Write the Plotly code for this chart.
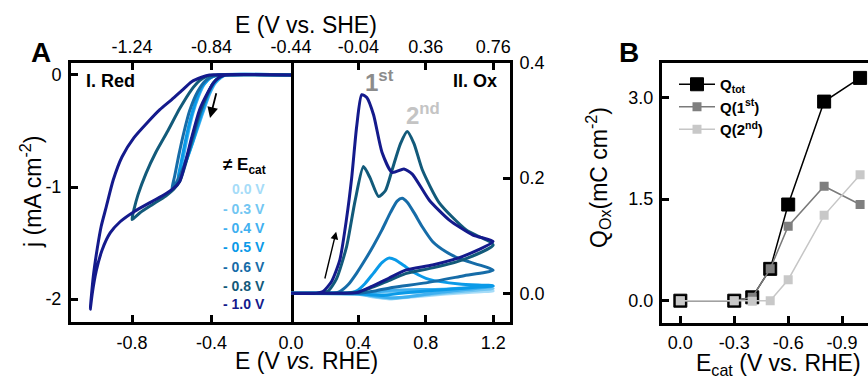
import plotly.graph_objects as go

W, H = 868, 377
def px(x): return x / W
def py(y): return 1 - y / H

FONT = "Liberation Sans, Arial, sans-serif"

# ---------------- data ----------------
ecat_labels = ["0.0 V", "- 0.3 V", "- 0.4 V", "- 0.5 V", "- 0.6 V", "- 0.8 V", "- 1.0 V"]
ecat_colors = ["#a6dcf8", "#72c6f2", "#3fb0f0", "#0a9ae8", "#166ca8", "#125a7a", "#141a8c"]

# Panel A-I (reduction): E (V vs. RHE), j (mA cm-2)
red_E_03 = [0.0, -0.30, 0.0]
red_j_03 = [0.0, 0.0, 0.0]
red_E_04 = [0.0, -0.33, -0.35, -0.38, -0.41, -0.45, -0.49, -0.53, -0.555,
            -0.54, -0.52, -0.495, -0.465, -0.435, -0.40, -0.36, 0.0]
red_j_04 = [0.0, 0.0, -0.02, -0.07, -0.17, -0.37, -0.58, -0.78, -0.87,
            -0.72, -0.54, -0.35, -0.19, -0.08, -0.02, 0.0, 0.0]
red_E_05 = [0.0, -0.33, -0.355, -0.385, -0.415, -0.455, -0.495, -0.535, -0.57,
            -0.555, -0.535, -0.51, -0.48, -0.45, -0.41, -0.37, 0.0]
red_j_05 = [0.0, 0.0, -0.02, -0.07, -0.17, -0.37, -0.60, -0.80, -0.93,
            -0.80, -0.62, -0.42, -0.24, -0.11, -0.03, 0.0, 0.0]
red_E_06 = [0.0, -0.33, -0.36, -0.39, -0.42, -0.46, -0.50, -0.54, -0.58, -0.60,
            -0.585, -0.565, -0.54, -0.51, -0.47, -0.43, -0.39, -0.35, 0.0]
red_j_06 = [0.0, 0.0, -0.02, -0.07, -0.17, -0.36, -0.60, -0.82, -0.97, -1.02,
            -0.90, -0.72, -0.52, -0.32, -0.15, -0.05, -0.01, 0.0, 0.0]
red_E_08 = [0.0, -0.33, -0.36, -0.39, -0.42, -0.46, -0.50, -0.53, -0.56, -0.59, -0.63, -0.70, -0.76, -0.80,
            -0.79, -0.77, -0.73, -0.68, -0.62, -0.56, -0.50, -0.46, -0.42, -0.39, 0.0]
red_j_08 = [0.0, 0.0, -0.02, -0.07, -0.17, -0.34, -0.58, -0.79, -0.95, -1.02, -1.08, -1.16, -1.23, -1.29,
            -1.20, -1.07, -0.88, -0.69, -0.50, -0.30, -0.13, -0.05, -0.01, 0.0, 0.0]
red_E_10 = [0.0, -0.33, -0.36, -0.39, -0.42, -0.46, -0.50, -0.53, -0.56, -0.59, -0.63, -0.70, -0.79, -0.86,
            -0.91, -0.95, -0.98, -1.00, -1.01,
            -0.995, -0.975, -0.955, -0.93, -0.895, -0.85, -0.79, -0.72, -0.66, -0.60, -0.55, -0.50, -0.45,
            -0.41, 0.0]
red_j_10 = [0.0, 0.0, -0.02, -0.07, -0.16, -0.31, -0.56, -0.77, -0.95, -1.01, -1.06, -1.13, -1.22, -1.31,
            -1.41, -1.56, -1.75, -1.95, -2.09,
            -1.80, -1.55, -1.35, -1.18, -0.94, -0.73, -0.56, -0.42, -0.31, -0.22, -0.14, -0.06, -0.02,
            0.0, 0.0]

# Panel A-II (oxidation): E (V vs. RHE), j (mA cm-2)
ox_E_00 = [0.0, 0.4, 0.7, 1.0, 1.2, 0.9, 0.7, 0.6, 0.5, 0.4, 0.0]
ox_j_00 = [0.0, 0.0, 0.001, 0.003, 0.004, -0.002, -0.007, -0.010, -0.007, -0.002, 0.0]
ox_E_03 = [0.0, 0.4, 0.6, 0.8, 1.0, 1.2, 0.9, 0.7, 0.6, 0.5, 0.4, 0.0]
ox_j_03 = [0.0, 0.0, 0.002, 0.003, 0.005, 0.008, 0.0, -0.006, -0.009, -0.006, -0.002, 0.0]
ox_E_04 = [0.0, 0.4, 0.5, 0.6, 0.7, 0.9, 1.2, 0.9, 0.7, 0.6, 0.5, 0.4, 0.0]
ox_j_04 = [0.0, 0.0, 0.002, 0.005, 0.006, 0.007, 0.012, 0.002, -0.006, -0.008, -0.005, -0.001, 0.0]
ox_E_05 = [0.0, 0.33, 0.39, 0.44, 0.49, 0.54, 0.58, 0.62, 0.67, 0.73, 0.82, 1.0, 1.2,
           1.0, 0.8, 0.65, 0.55, 0.45, 0.35, 0.0]
ox_j_05 = [0.0, 0.0, 0.004, 0.017, 0.035, 0.053, 0.061, 0.058, 0.048, 0.036, 0.024, 0.016, 0.013,
           0.008, 0.004, 0.0, -0.004, -0.002, 0.0, 0.0]
ox_E_06 = [0.0, 0.25, 0.29, 0.34, 0.39, 0.44, 0.49, 0.54, 0.59, 0.63, 0.66, 0.69, 0.73, 0.78, 0.84, 0.92,
           1.0, 1.2, 1.02, 0.8, 0.6, 0.5, 0.4, 0.3, 0.0]
ox_j_06 = [0.0, 0.0, 0.003, 0.015, 0.035, 0.058, 0.083, 0.11, 0.14, 0.16, 0.165, 0.158, 0.14, 0.115, 0.09,
           0.072, 0.06, 0.04, 0.03, 0.018, 0.01, 0.004, 0.0, 0.0, 0.0]
ox_E_08 = [0.0, 0.17, 0.22, 0.27, 0.33, 0.38, 0.43, 0.47, 0.52, 0.56, 0.60, 0.65, 0.69, 0.73, 0.78, 0.88,
           1.04, 1.2, 1.02, 0.84, 0.68, 0.58, 0.48, 0.40, 0.30, 0.0]
ox_j_08 = [0.0, 0.0, 0.004, 0.025, 0.081, 0.16, 0.22, 0.20, 0.168, 0.178, 0.214, 0.26, 0.281, 0.26, 0.214,
           0.157, 0.11, 0.084, 0.058, 0.044, 0.034, 0.022, 0.01, 0.002, 0.0, 0.0]
ox_E_10 = [0.0, 0.15, 0.19, 0.24, 0.29, 0.33, 0.36, 0.39, 0.42, 0.45, 0.49, 0.54, 0.60, 0.67, 0.72, 0.82,
           0.94, 1.08, 1.2, 1.02, 0.84, 0.68, 0.58, 0.48, 0.39, 0.30, 0.0]
ox_j_10 = [0.0, 0.0, 0.003, 0.02, 0.058, 0.13, 0.20, 0.29, 0.345, 0.34, 0.31, 0.245, 0.21, 0.216, 0.207,
           0.162, 0.127, 0.101, 0.09, 0.064, 0.049, 0.04, 0.026, 0.012, 0.001, 0.0, 0.0]

# Panel B: charge vs. E_cat
ecat = [0.0, -0.3, -0.4, -0.5, -0.6, -0.8, -1.0]
q_tot = [0.0, 0.0, 0.05, 0.47, 1.42, 2.94, 3.29]
q_1st = [0.0, 0.0, 0.05, 0.47, 1.10, 1.69, 1.42]
q_2nd = [0.0, 0.0, -0.01, 0.0, 0.31, 1.26, 1.86]

# Tick labels
red_ticks = [-0.8, -0.4, 0.0]
ox_ticks = [0.4, 0.8, 1.2]
she_ticks_red = [-1.24, -0.84, -0.44]
she_ticks_ox = [-0.04, 0.36, 0.76]
j_ticks = [0, -1, -2]
jox_ticks = [0.0, 0.2, 0.4]
b_xticks = [0.0, -0.3, -0.6, -0.9]
b_yticks = [0.0, 1.5, 3.0]

red_series = [red_E_03, red_E_04, red_E_05, red_E_06, red_E_08, red_E_10]
red_vals = [red_j_03, red_j_04, red_j_05, red_j_06, red_j_08, red_j_10]
ox_series = [ox_E_00, ox_E_03, ox_E_04, ox_E_05, ox_E_06, ox_E_08, ox_E_10]
ox_vals = [ox_j_00, ox_j_03, ox_j_04, ox_j_05, ox_j_06, ox_j_08, ox_j_10]

fig = go.Figure()

for i, (xs, ys) in enumerate(zip(red_series, red_vals)):
    c = ecat_colors[i + 1]
    fig.add_trace(go.Scatter(x=xs, y=ys, mode="lines", xaxis="x", yaxis="y",
                             line=dict(color=c, width=3, shape="spline", smoothing=0.6),
                             showlegend=False, hoverinfo="skip"))

for i, (xs, ys) in enumerate(zip(ox_series, ox_vals)):
    c = ecat_colors[i]
    fig.add_trace(go.Scatter(x=xs, y=ys, mode="lines", xaxis="x2", yaxis="y2",
                             line=dict(color=c, width=3, shape="spline", smoothing=0.6),
                             showlegend=False, hoverinfo="skip"))

# ghost traces for the top (SHE) axes
fig.add_trace(go.Scatter(x=she_ticks_red, y=[None] * 3, xaxis="x3", yaxis="y", mode="markers",
                         showlegend=False, hoverinfo="skip"))
fig.add_trace(go.Scatter(x=she_ticks_ox, y=[None] * 3, xaxis="x4", yaxis="y2", mode="markers",
                         showlegend=False, hoverinfo="skip"))

fig.add_trace(go.Scatter(x=ecat, y=q_tot, mode="lines+markers", xaxis="x5", yaxis="y5",
                         name="<b>Q<sub>tot</sub></b>",
                         line=dict(color="black", width=1.5),
                         marker=dict(symbol="square", size=13, color="black",
                                     line=dict(color="black", width=1))))
fig.add_trace(go.Scatter(x=ecat, y=q_1st, mode="lines+markers", xaxis="x5", yaxis="y5",
                         name="<b>Q(1<sup>st</sup>)</b>",
                         line=dict(color="#7a7a7a", width=1.5),
                         marker=dict(symbol="square", size=9, color="#7f7f7f")))
fig.add_trace(go.Scatter(x=ecat, y=q_2nd, mode="lines+markers", xaxis="x5", yaxis="y5",
                         name="<b>Q(2<sup>nd</sup>)</b>",
                         line=dict(color="#c6c6c6", width=1.5),
                         marker=dict(symbol="square", size=9, color="#c8c8c8")))

common = dict(showline=True, linewidth=3, linecolor="black", ticks="inside", ticklen=7,
              tickwidth=2.5, tickcolor="black", showgrid=False, zeroline=False, automargin=False,
              tickfont=dict(size=18, color="black", family=FONT), fixedrange=True)

def fmt(v, nd):
    return ("%." + str(nd) + "f") % v

ydomA = [py(322), py(63)]
fig.update_layout(
    template="none",
    width=W, height=H, margin=dict(l=0, r=0, t=0, b=0, pad=0, autoexpand=False),
    paper_bgcolor="white", plot_bgcolor="rgba(0,0,0,0)",
    font=dict(family=FONT, color="black"),
    xaxis=dict(common, domain=[px(71), px(291)], range=[-1.107, 0.0], anchor="y",
               tickvals=red_ticks, ticktext=[fmt(v, 1) for v in red_ticks], ticklabelstandoff=2),
    yaxis=dict(common, domain=ydomA, range=[-2.205, 0.107], anchor="x", mirror=True,
               tickvals=j_ticks, ticktext=[str(v) for v in j_ticks], ticklabelstandoff=3),
    xaxis2=dict(common, domain=[px(291), px(510)], range=[0.0, 1.3], anchor="y2",
                tickvals=ox_ticks, ticktext=[fmt(v, 1) for v in ox_ticks], ticklabelstandoff=2),
    yaxis2=dict(common, domain=ydomA, range=[-0.05, 0.4], anchor="x2", side="right",
                tickvals=jox_ticks, ticktext=[fmt(v, 1) for v in jox_ticks], ticklabelstandoff=3),
    xaxis3=dict(common, overlaying="x", side="top", anchor="y", range=[-1.547, -0.44],
                tickvals=she_ticks_red, ticktext=[fmt(v, 2) for v in she_ticks_red]),
    xaxis4=dict(common, overlaying="x2", side="top", anchor="y2", range=[-0.44, 0.86],
                tickvals=she_ticks_ox, ticktext=[fmt(v, 2) for v in she_ticks_ox]),
    xaxis5=dict(common, domain=[px(662), 1.0], range=[0.102, -1.044], anchor="y5", mirror=True,
                tickvals=b_xticks, ticktext=[fmt(v, 1) for v in b_xticks], ticklabelstandoff=2),
    yaxis5=dict(common, domain=[py(322.7), py(63)], range=[-0.325, 3.51], anchor="x5",
                tickvals=b_yticks, ticktext=[fmt(v, 1) for v in b_yticks], ticklabelstandoff=2),
    legend=dict(x=px(674), y=py(68), xanchor="left", yanchor="top", bgcolor="rgba(0,0,0,0)",
                font=dict(size=15, color="black", family=FONT), tracegroupgap=0, itemwidth=36),
    showlegend=True,
)

ann = []
def txt(text, x, y, size, color="black", xanchor="center", yanchor="middle", angle=0):
    ann.append(dict(text=text, x=px(x), y=py(y), xref="paper", yref="paper", showarrow=False,
                    font=dict(size=size, color=color, family=FONT), xanchor=xanchor,
                    yanchor=yanchor, textangle=angle))

txt("<b>A</b>", 41, 52, 28)
txt("<b>B</b>", 629, 52, 28)
txt("E (V vs. SHE)", 306, 25, 23)
txt("E (V <i>vs.</i> RHE)", 306, 361, 23)
txt("j (mA cm<sup>-2</sup>)", 31, 192, 23, angle=-90)
txt("<b>I. Red</b>", 84, 81, 18, xanchor="left")
txt("<b>II. Ox</b>", 499, 81, 18, xanchor="right")
txt("<b>1<sup>st</sup></b>", 379, 81, 24, color="#8c8c8c")
txt("<b>2<sup>nd</sup></b>", 423, 114, 24, color="#c4c4c4")
txt("<b>\u2260 E<sub>cat</sub></b>", 268, 166, 17, xanchor="right")
leg_y = [189, 209, 228, 247.5, 266.5, 285.5, 304]
for lab, col, yy in zip(ecat_labels, ecat_colors, leg_y):
    txt("<b>" + lab + "</b>", 267, yy, 14, color=col, xanchor="right")
txt("Q<sub>Ox</sub>(mC cm<sup>-2</sup>)", 598, 178, 23, angle=-90)
txt("E<sub>cat</sub> (V vs. RHE)", 778, 364, 23)

# arrows indicating sweep direction
ann.append(dict(x=-0.4075, y=-0.384, ax=-0.374, ay=-0.15, xref="x", yref="y", axref="x", ayref="y",
                showarrow=True, arrowhead=2, arrowsize=1.2, arrowwidth=1.8, arrowcolor="black", text=""))
ann.append(dict(x=0.268, y=0.107, ax=0.199, ay=0.023, xref="x2", yref="y2", axref="x2", ayref="y2",
                showarrow=True, arrowhead=2, arrowsize=1.1, arrowwidth=1.4, arrowcolor="black", text=""))

fig.update_layout(annotations=ann)
fig.write_html("out.html")
